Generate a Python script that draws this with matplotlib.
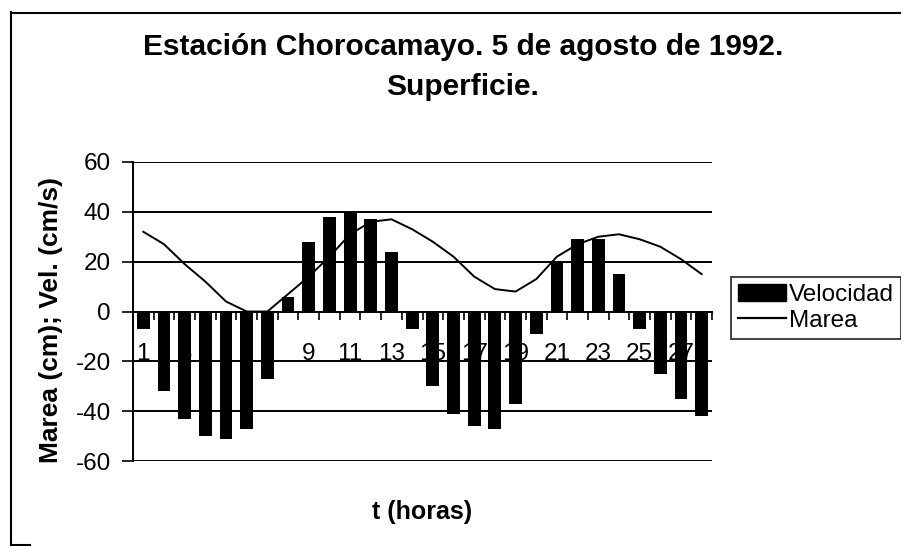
import matplotlib
matplotlib.use('Agg')
import matplotlib.pyplot as plt
from matplotlib.lines import Line2D
from matplotlib.patches import Patch
import numpy as np

hours = list(range(1, 29))
velocidad = [-7, -32, -43, -50, -51, -47, -27, 6, 28, 38, 40, 37, 24, -7,
             -30, -41, -46, -47, -37, -9, 20, 29, 29, 15, -7, -25, -35, -42]
marea = [32, 27, 19, 12, 4, 0, 0, 7, 14, 22, 31, 36, 37, 33,
         28, 22, 14, 9, 8, 13, 22, 27, 30, 31, 29, 26, 21, 15]
xtick_labels = [str(h) if h % 2 == 1 else '' for h in hours]
yticks = [-60, -40, -20, 0, 20, 40, 60]

title1 = 'Estación Chorocamayo. 5 de agosto de 1992.'
title2 = 'Superficie.'
ylabel = 'Marea (cm); Vel. (cm/s)'
xlabel = 't (horas)'

plt.rcParams['font.family'] = ['Liberation Sans', 'DejaVu Sans']

W, H = 901, 546
fig = plt.figure(figsize=(W / 100, H / 100), dpi=100)
fig.patch.set_facecolor('white')

left, right, top, bottom = 133, 712, 162, 461
ax = fig.add_axes([left / W, 1 - bottom / H, (right - left) / W, (bottom - top) / H])
ax.set_facecolor('none')

x = np.arange(len(hours))
ax.bar(x, velocidad, width=0.62, color='black', zorder=3)
ax.plot(x, marea, color='black', lw=1.4, zorder=4)

ax.set_xlim(-0.5, len(hours) - 0.5)
ax.set_ylim(-60, 60)
ax.set_yticks(yticks)
ax.set_yticklabels([str(v) for v in yticks])
ax.yaxis.grid(True, color='black', lw=1.4)
ax.set_axisbelow(True)

ax.set_xticks(x)
ax.set_xticklabels(xtick_labels)
ax.set_xticks(np.arange(len(hours) + 1) - 0.5, minor=True)
ax.tick_params(axis='x', which='major', length=0, pad=23, labelsize=17.5)
ax.tick_params(axis='x', which='minor', length=6, width=1.2, direction='out', color='black')
ax.tick_params(axis='y', which='major', length=8, width=1.2, direction='out', pad=8, labelsize=17.5)

ax.spines['top'].set_visible(False)
ax.spines['right'].set_visible(False)
ax.spines['bottom'].set_position(('data', 0))
ax.spines['bottom'].set_linewidth(1.4)
ax.spines['left'].set_linewidth(1.4)

fig.text(463 / W, 1 - 55 / H, title1, ha='center', va='baseline', fontsize=21.5, weight='bold')
fig.text(463 / W, 1 - 95 / H, title2, ha='center', va='baseline', fontsize=21.5, weight='bold')
fig.text(51 / W, 1 - 320 / H, ylabel, ha='center', va='center', rotation=90, fontsize=19, weight='bold')
fig.text(422 / W, 1 - 512 / H, xlabel, ha='center', va='center', fontsize=18, weight='bold')

handles = [Patch(facecolor='black', edgecolor='black'), Line2D([], [], color='black', lw=1.6)]
leg = fig.legend(handles, ['Velocidad', 'Marea'], loc='upper left',
                 bbox_to_anchor=(731 / W, 1 - 277 / H), bbox_transform=fig.transFigure,
                 borderaxespad=0, fontsize=17.5, frameon=True, fancybox=False,
                 edgecolor='black', handlelength=1.95, handletextpad=0.12,
                 labelspacing=0.15, borderpad=0.3)
leg.get_frame().set_linewidth(1.3)

fig.add_artist(Line2D([11 / W, 11 / W], [1 - 12 / H, 1 - 545 / H], transform=fig.transFigure, color='black', lw=1.5))
fig.add_artist(Line2D([11 / W, 1.0], [1 - 13 / H, 1 - 13 / H], transform=fig.transFigure, color='black', lw=1.5))
fig.add_artist(Line2D([11 / W, 30 / W], [1 - 545 / H, 1 - 545 / H], transform=fig.transFigure, color='black', lw=1.5))

fig.savefig('out.png', dpi=100, facecolor='white')
